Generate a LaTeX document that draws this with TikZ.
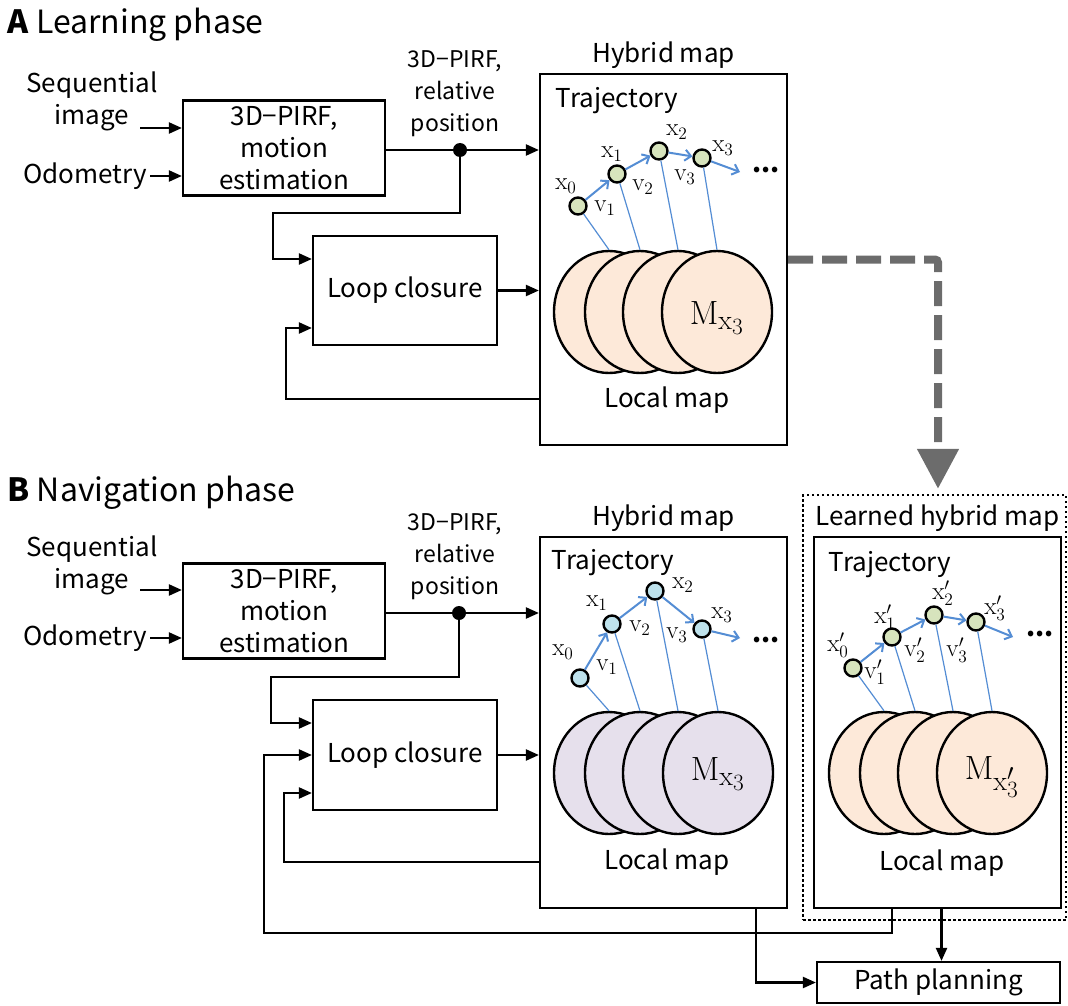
\documentclass[tikz,border=0pt]{standalone}
\usepackage{graphicx}
\usepackage[no-math]{fontspec}
\setmainfont{Noto Sans CJK JP}
\usetikzlibrary{arrows.meta,shapes.geometric,positioning}
\definecolor{trajblue}{RGB}{84,141,212}
\definecolor{posegreen}{RGB}{215,228,189}
\definecolor{poseblue}{RGB}{190,226,236}
\definecolor{mappeach}{RGB}{253,233,217}
\definecolor{maplilac}{RGB}{230,224,236}
\definecolor{flowgray}{RGB}{108,108,108}
\newcommand{\bigM}[1]{\scalebox{1.35}{$\mathrm{M}_{#1}$}}
\newcommand{\lab}[1]{\scalebox{1.45}{$#1$}}

\tikzset{
  blk/.style={draw, line width=2.2pt, fill=white, align=center, inner sep=0pt},
  arr/.style={line width=2.2pt, -{Triangle[length=13pt,width=11pt]}},
  link/.style={line width=2.2pt},
  pose/.style={circle, draw, line width=2.4pt, minimum size=17pt, inner sep=0pt},
  traj/.style={draw=trajblue, line width=2pt, -{Straight Barb[length=6pt,width=11pt]}},
  tie/.style={draw=trajblue, line width=1.2pt},
  lmap/.style={ellipse, draw, line width=2.4pt, minimum width=110pt, minimum height=122pt, inner sep=0pt},
  lbl/.style={font=\fontsize{17.28}{18}\selectfont, inner sep=1pt},
  more/.style={font=\fontsize{26}{26}\bfseries, inner sep=0pt},
  mlbl/.style={font=\fontsize{24.88}{26}\selectfont},
  small/.style={font=\fontsize{23}{32}\selectfont, align=center},
  title/.style={font=\fontsize{32}{36}\selectfont},
  zone/.style={draw, line width=2.4pt, dash pattern=on 2.5pt off 2.5pt},
  flow/.style={draw=flowgray, line width=8pt, dash pattern=on 25pt off 9pt, rounded corners=3pt, -{Triangle[length=40pt,width=40pt]}}
}

\begin{document}
\begin{tikzpicture}[x=1pt,y=-1pt,font=\fontsize{26}{32}\selectfont]
\useasboundingbox (0,0) rectangle (1068,1006);

% A: learning phase
\node[title, anchor=west] (titleA) at (4,25) {\textbf{A} Learning phase};
\node[align=center] (seqA) at (92,101) {Sequential\\image};
\node (odoA) at (85,176) {Odometry};
\coordinate (inA) at (140,128);
\node[blk, minimum width=202pt, minimum height=95pt] (estA) at (284,148) {3D−PIRF,\\motion\\estimation};
\node[small] (pirfA) at (455,94) {3D−PIRF,\\relative\\position};
\node[blk, minimum width=184pt, minimum height=109pt] (loopA) at (405,290.5) {Loop closure};
\node[blk, minimum width=247pt, minimum height=371pt] (hybA) at (663.5,259.5) {};
\node[above=1pt of hybA] (hybtA) {Hybrid map};
\node (trjA) at (617,101) {Trajectory};
\node (locA) at (667,400) {Local map};
\node[circle, fill, inner sep=0pt, minimum size=14pt] (dotA) at (460,150) {};

\draw[arr] (inA) -- (inA -| estA.west);
\draw[arr] (odoA.east) -- (odoA.east -| estA.west);
\draw[link] (estA.east |- dotA) -- (dotA);
\draw[arr] (dotA) -- (dotA -| hybA.west);
\draw[arr] (dotA) -- ++(0,63) -| ([xshift=-39pt,yshift=31.5pt]loopA.west) -- ([yshift=31.5pt]loopA.west);
\draw[arr] (loopA.east) -- (loopA.east -| hybA.west);
\draw[arr] ([yshift=-139.5pt]hybA.west) -| ([xshift=-26pt,yshift=-37.5pt]loopA.west) -- ([yshift=-37.5pt]loopA.west);

% local maps
\foreach \k/\cx in {0/609,1/640,2/678,3/717}
  \node[lmap, fill=mappeach] (mA\k) at (\cx,312) {};
\node[mlbl] (mxA) at (717,318) {\bigM{\mathrm{x}_3}};

% trajectory
\node[pose, fill=posegreen] (a0) at (578,206) {};
\node[pose, fill=posegreen] (a1) at (617,174) {};
\node[pose, fill=posegreen] (a2) at (659,151) {};
\node[pose, fill=posegreen] (a3) at (702,158) {};
\coordinate (a4) at (740,172);
\foreach \i/\j in {0/1,1/2,2/3,3/4}
  \draw[traj] (a\i) -- (a\j);
\foreach \k in {0,...,3}
  \draw[tie] (a\k) -- (mA\k.north);
\node[lbl] (xa0) at (566,186) {\lab{\mathrm{x}_0}};
\node[lbl] (xa1) at (612,154) {\lab{\mathrm{x}_1}};
\node[lbl] (xa2) at (677,132) {\lab{\mathrm{x}_2}};
\node[lbl] (xa3) at (723,148) {\lab{\mathrm{x}_3}};
\node[lbl] (va1) at (605,208) {\lab{\mathrm{v}_1}};
\node[lbl] (va2) at (643,187) {\lab{\mathrm{v}_2}};
\node[lbl] (va3) at (685,177) {\lab{\mathrm{v}_3}};
\node[more] (dA) at (766,170) {...};

% A -> B
\node[zone, minimum width=263pt, minimum height=425pt] (zone) at (934.5,707.5) {};
\draw[flow] (hybA.east) -| ([xshift=3.5pt,yshift=5pt]zone.north);

% B: navigation phase
\node[title, anchor=west] (titleB) at (4,493) {\textbf{B} Navigation phase};
\node[align=center] (seqB) at (92,565) {Sequential\\image};
\node (odoB) at (85,638) {Odometry};
\coordinate (inB) at (140,590);
\node[blk, minimum width=202pt, minimum height=95pt] (estB) at (284,611) {3D−PIRF,\\motion\\estimation};
\node[small] (pirfB) at (455,557) {3D−PIRF,\\relative\\position};
\node[blk, minimum width=184pt, minimum height=110pt] (loopB) at (405,755) {Loop closure};
\node[blk, minimum width=247pt, minimum height=371pt] (hybB) at (663.5,722.5) {};
\node[above=1pt of hybB] (hybtB) {Hybrid map};
\node (trjB) at (613,563) {Trajectory};
\node (locB) at (667,862) {Local map};
\node[circle, fill, inner sep=0pt, minimum size=14pt] (dotB) at (459,613) {};
\node[blk, minimum width=247pt, minimum height=371pt] (learn) at (937.5,722.5) {};
\node[above=1pt of learn] (learnt) {Learned hybrid map};
\node (trjL) at (890,565) {Trajectory};
\node (locL) at (942,863) {Local map};
\node[blk, minimum width=243pt, minimum height=41pt] (plan) at (938.5,982.5) {Path planning};

\draw[arr] (inB) -- (inB -| estB.west);
\draw[arr] (odoB.east) -- (odoB.east -| estB.west);
\draw[link] (estB.east |- dotB) -- (dotB);
\draw[arr] (dotB) -- (dotB -| hybB.west);
\draw[arr] (dotB) -- ++(0,64) -| ([xshift=-41pt,yshift=32pt]loopB.west) -- ([yshift=32pt]loopB.west);
\draw[arr] (loopB.east) -- (loopB.east -| hybB.west);
\draw[arr] ([yshift=-139.5pt]hybB.west) -| ([xshift=-28pt,yshift=-38pt]loopB.west) -- ([yshift=-38pt]loopB.west);
\draw[arr] ([xshift=-45.5pt]learn.south) -- ++(0,24) -| ([xshift=-48pt]loopB.west) -- (loopB.west);
\draw[arr] ([xshift=92.5pt]hybB.south) |- (plan.west);
\draw[arr] ([xshift=4pt]learn.south) -- ([xshift=4pt]learn.south |- plan.north);

% local maps
\foreach \k/\cx in {0/609,1/640,2/678,3/718}
  \node[lmap, fill=maplilac] (mB\k) at (\cx,773) {};
\node[mlbl] (mxB) at (718,774) {\bigM{\mathrm{x}_3}};
\foreach \k/\cx in {0/884,1/915,2/953,3/992}
  \node[lmap, fill=mappeach] (mL\k) at (\cx,773) {};
\node[mlbl] (mxL) at (992,777) {\bigM{\mathrm{x}'_3}};

% trajectory (current run)
\node[pose, fill=poseblue] (b0) at (580,678) {};
\node[pose, fill=poseblue] (b1) at (612,624) {};
\node[pose, fill=poseblue] (b2) at (655,591) {};
\node[pose, fill=poseblue] (b3) at (702,629) {};
\coordinate (b4) at (740,638);
\foreach \i/\j in {0/1,1/2,2/3,3/4}
  \draw[traj] (b\i) -- (b\j);
\foreach \k in {0,...,3}
  \draw[tie] (b\k) -- (mB\k.north);
\node[lbl] (xb0) at (563,652) {\lab{\mathrm{x}_0}};
\node[lbl] (xb1) at (597,603) {\lab{\mathrm{x}_1}};
\node[lbl] (xb2) at (683,585) {\lab{\mathrm{x}_2}};
\node[lbl] (xb3) at (722,615) {\lab{\mathrm{x}_3}};
\node[lbl] (vb1) at (607,667) {\lab{\mathrm{v}_1}};
\node[lbl] (vb2) at (640,628) {\lab{\mathrm{v}_2}};
\node[lbl] (vb3) at (677,635) {\lab{\mathrm{v}_3}};
\node[more] (dB) at (766,640) {...};

% trajectory (learned)
\node[pose, fill=posegreen] (c0) at (853,668) {};
\node[pose, fill=posegreen] (c1) at (892,637) {};
\node[pose, fill=posegreen] (c2) at (934,615) {};
\node[pose, fill=posegreen] (c3) at (976,622) {};
\coordinate (c4) at (1013,637);
\foreach \i/\j in {0/1,1/2,2/3,3/4}
  \draw[traj] (c\i) -- (c\j);
\foreach \k in {0,...,3}
  \draw[tie] (c\k) -- (mL\k.north);
\node[lbl] (xc0) at (838,645) {\lab{\mathrm{x}'_0}};
\node[lbl] (xc1) at (885,617) {\lab{\mathrm{x}'_1}};
\node[lbl] (xc2) at (943,593) {\lab{\mathrm{x}'_2}};
\node[lbl] (xc3) at (995,608) {\lab{\mathrm{x}'_3}};
\node[lbl] (vc1) at (875,672) {\lab{\mathrm{v}'_1}};
\node[lbl] (vc2) at (915,650) {\lab{\mathrm{v}'_2}};
\node[lbl] (vc3) at (957,650) {\lab{\mathrm{v}'_3}};
\node[more] (dL) at (1040,634) {...};
\end{tikzpicture}
\end{document}
